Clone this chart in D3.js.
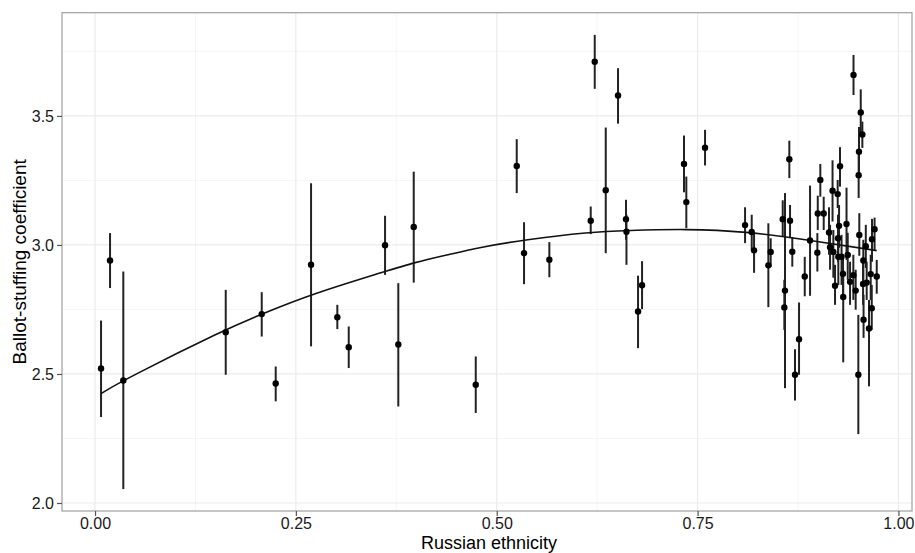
<!DOCTYPE html>
<html>
<head>
<meta charset="utf-8">
<script src="https://cdn.jsdelivr.net/npm/d3@7"></script>
<style>
  html, body { margin: 0; padding: 0; background: #fff; }
  svg { display: block; font-family: "Liberation Sans", Arial, sans-serif; }
</style>
</head>
<body>
<div id="chart"></div>
<script>
// share of ethnic Russians per region
const ethnicity = [0.0075,0.0187,0.0352,0.1627,0.2075,0.2249,0.2689,0.3016,0.3158,0.3610,
  0.3775,0.3967,0.4739,0.5249,0.5340,0.5655,0.6170,0.6220,0.6357,0.6510,
  0.6609,0.6615,0.6759,0.6809,0.7331,0.7360,0.7593,0.8091,0.8174,0.8203,
  0.8381,0.8410,0.8560,0.8651,0.8679,0.8588,0.8580,0.8642,0.8763,0.8713,
  0.8834,0.8900,0.8996,0.9070,0.9028,0.8991,0.9180,0.9273,0.9244,0.9136,
  0.9261,0.9354,0.9441,0.9531,0.9551,0.9509,0.9505,0.9513,0.9594,0.9671,
  0.9703,0.9149,0.9190,0.9211,0.9252,0.9292,0.9310,0.9313,0.9369,0.9398,
  0.9439,0.9468,0.9501,0.9563,0.9560,0.9605,0.9566,0.9634,0.9655,0.9668,
  0.9730,0.9248];
const coef = [2.521,2.940,2.475,2.662,2.732,2.463,2.923,2.720,2.604,2.999,
  2.614,3.070,2.458,3.306,2.968,2.943,3.094,3.710,3.212,3.579,
  3.100,3.051,2.742,2.844,3.314,3.166,3.377,3.077,3.050,2.979,
  2.921,2.973,3.100,3.094,2.974,2.823,2.758,3.332,2.635,2.497,
  2.878,3.017,3.122,3.122,3.252,2.970,3.210,3.305,3.197,3.048,
  3.074,3.081,3.659,3.513,3.428,3.361,3.270,3.039,2.995,3.022,
  3.061,2.991,2.973,2.842,2.954,2.954,2.888,2.798,2.961,2.857,
  2.883,2.823,2.497,2.940,2.849,2.854,2.710,2.676,2.887,2.755,
  2.878,3.026];
const lower = [2.333,2.833,2.054,2.497,2.645,2.394,2.607,2.674,2.523,2.884,
  2.374,2.854,2.349,3.201,2.848,2.875,3.042,3.605,2.968,3.470,
  3.020,2.923,2.600,2.751,3.204,3.065,3.308,3.007,2.981,2.892,
  2.759,2.915,3.031,3.031,2.916,2.445,2.671,3.259,2.497,2.397,
  2.801,2.803,3.058,3.058,3.187,2.897,3.091,3.226,3.143,2.962,
  2.989,2.942,3.581,3.426,3.376,3.260,3.182,2.958,2.911,2.935,
  2.981,2.904,2.873,2.768,2.845,2.845,2.807,2.545,2.865,2.768,
  2.787,2.749,2.267,2.857,2.768,2.787,2.640,2.452,2.787,2.671,
  2.811,2.935];
const upper = [2.707,3.046,2.897,2.826,2.817,2.529,3.239,2.768,2.684,3.113,
  2.852,3.284,2.568,3.410,3.088,3.011,3.149,3.814,3.455,3.685,
  3.175,3.117,2.881,2.937,3.424,3.265,3.446,3.146,3.117,3.047,
  3.084,3.026,3.173,3.155,3.031,3.201,2.865,3.404,2.777,2.596,
  2.954,3.230,3.191,3.187,3.314,3.046,3.328,3.379,3.252,3.146,
  3.155,3.222,3.736,3.603,3.478,3.457,3.349,3.123,3.078,3.101,
  3.106,3.078,3.058,2.923,3.039,3.039,2.962,2.904,3.047,2.935,
  2.962,2.904,2.729,3.020,2.935,2.935,2.807,2.787,2.962,2.845,
  2.942,3.117];

// fitted curve
const fitX = [0.0075,0.035,0.163,0.2075,0.269,0.361,0.397,0.442,0.479,0.534,0.617,0.661,0.736,0.809,0.890,0.973];
const fitY = [2.424,2.476,2.674,2.732,2.809,2.897,2.932,2.964,2.991,3.020,3.050,3.056,3.062,3.053,3.018,2.978];

const xTicks = [0, 0.25, 0.5, 0.75, 1.0];
const xMinor = [0.125, 0.375, 0.625, 0.875];
const yTicks = [2.0, 2.5, 3.0, 3.5];
const yMinor = [2.25, 2.75, 3.25, 3.75];

const width = 915, height = 553;
const margin = {top: 12.7, right: 3, bottom: 42, left: 62};

const svg = d3.select("#chart").append("svg")
    .attr("width", width)
    .attr("height", height);

const x = d3.scaleLinear()
    .domain([-0.0411, 1.0169])
    .range([margin.left, width - margin.right]);
const y = d3.scaleLinear()
    .domain([1.969, 3.900])
    .range([height - margin.bottom, margin.top]);

const x0 = margin.left, x1 = width - margin.right;
const y0 = height - margin.bottom, y1 = margin.top;

// grid
const grid = svg.append("g");
grid.selectAll(".xmin").data(xMinor).enter().append("line")
    .attr("x1", d => x(d)).attr("x2", d => x(d))
    .attr("y1", y0).attr("y2", y1)
    .attr("stroke", "#f5f5f5").attr("stroke-width", 1);
grid.selectAll(".ymin").data(yMinor).enter().append("line")
    .attr("x1", x0).attr("x2", x1)
    .attr("y1", d => y(d)).attr("y2", d => y(d))
    .attr("stroke", "#f5f5f5").attr("stroke-width", 1);
grid.selectAll(".xmaj").data(xTicks).enter().append("line")
    .attr("x1", d => x(d)).attr("x2", d => x(d))
    .attr("y1", y0).attr("y2", y1)
    .attr("stroke", "#ebebeb").attr("stroke-width", 1.2);
grid.selectAll(".ymaj").data(yTicks).enter().append("line")
    .attr("x1", x0).attr("x2", x1)
    .attr("y1", d => y(d)).attr("y2", d => y(d))
    .attr("stroke", "#ebebeb").attr("stroke-width", 1.2);

// error bars
const pts = ethnicity.map((e, i) => ({x: e, y: coef[i], lo: lower[i], hi: upper[i]}));
svg.append("g").selectAll("line").data(pts).enter().append("line")
    .attr("x1", d => x(d.x)).attr("x2", d => x(d.x))
    .attr("y1", d => y(d.lo)).attr("y2", d => y(d.hi))
    .attr("stroke", "#222").attr("stroke-width", 2);

// fit line
const line = d3.line()
    .x(d => x(d[0])).y(d => y(d[1]))
    .curve(d3.curveBasis);
svg.append("path")
    .datum(fitX.map((v, i) => [v, fitY[i]]))
    .attr("fill", "none")
    .attr("stroke", "#111")
    .attr("stroke-width", 1.6)
    .attr("d", line);

// points
svg.append("g").selectAll("circle").data(pts).enter().append("circle")
    .attr("cx", d => x(d.x)).attr("cy", d => y(d.y))
    .attr("r", 3.2)
    .attr("fill", "#000");

// panel border
svg.append("rect")
    .attr("x", x0).attr("y", y1)
    .attr("width", x1 - x0).attr("height", y0 - y1)
    .attr("fill", "none")
    .attr("stroke", "#9e9e9e").attr("stroke-width", 1.2);

// axes
const xAxis = svg.append("g")
    .attr("transform", `translate(0,${y0})`)
    .call(d3.axisBottom(x).tickValues(xTicks).tickFormat(d3.format(".2f")).tickSize(5).tickPadding(2));
const yAxis = svg.append("g")
    .attr("transform", `translate(${x0},0)`)
    .call(d3.axisLeft(y).tickValues(yTicks).tickFormat(d3.format(".1f")).tickSize(5).tickPadding(3));
[xAxis, yAxis].forEach(a => {
  a.select(".domain").remove();
  a.selectAll(".tick line").attr("stroke", "#555").attr("stroke-width", 1.2);
  a.selectAll(".tick text")
    .attr("fill", "#1a1a1a")
    .style("font-size", "16px")
    .style("font-family", "'Liberation Sans', Arial, sans-serif");
});

// titles
svg.append("text")
    .attr("x", (x0 + x1) / 2 + 2)
    .attr("y", 549)
    .attr("text-anchor", "middle")
    .attr("fill", "#000")
    .style("font-size", "18px")
    .text("Russian ethnicity");
svg.append("text")
    .attr("transform", `translate(26,${(y0 + y1) / 2}) rotate(-90)`)
    .attr("text-anchor", "middle")
    .attr("fill", "#000")
    .style("font-size", "19px")
    .text("Ballot-stuffing coefficient");
</script>
</body>
</html>
